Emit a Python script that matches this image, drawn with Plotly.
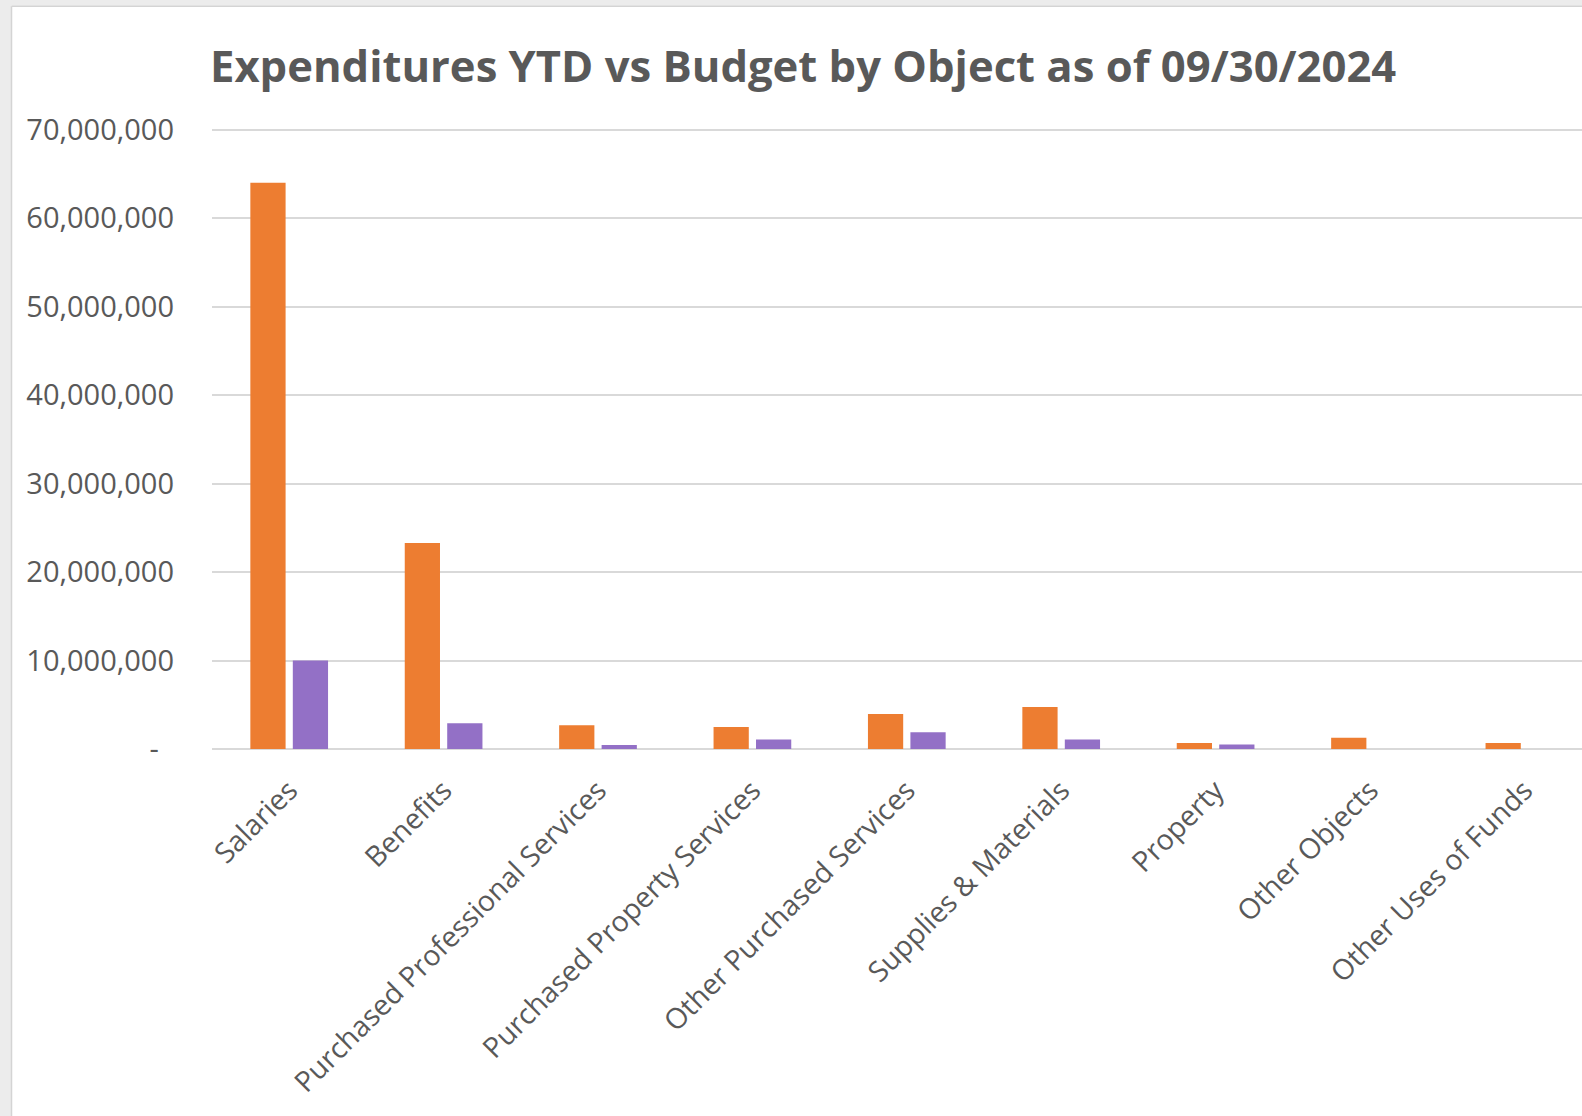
import plotly.graph_objects as go

categories = ["Salaries", "Benefits", "Purchased Professional Services",
              "Purchased Property Services", "Other Purchased Services",
              "Supplies & Materials", "Property", "Other Objects", "Other Uses of Funds"]
budget = [64000000, 23300000, 2690000, 2490000, 3950000, 4760000, 690000, 1260000, 690000]
ytd_expenditures = [10000000, 2920000, 460000, 1080000, 1890000, 1080000, 500000, 0, 0]

tick_vals = [0, 10000000, 20000000, 30000000, 40000000, 50000000, 60000000, 70000000]
tick_text = ["-\u00a0\u00a0", "10,000,000", "20,000,000", "30,000,000", "40,000,000",
             "50,000,000", "60,000,000", "70,000,000"]

W, H = 1582, 1116
ML = 212
Y_TOP = 130.0        # pixel of 70M
PLOT_BOTTOM = 748.6  # pixel of 0
Y_MAX = 70200000
PX_PER_UNIT = (PLOT_BOTTOM - Y_TOP) / 70000000
MT = PLOT_BOTTOM - Y_MAX * PX_PER_UNIT
MB = H - PLOT_BOTTOM
PW = W - ML
PH = PLOT_BOTTOM - MT
CAT_W = 154.4

def px_x(p):
    return (p - ML) / PW

def px_y(p):
    return (PLOT_BOTTOM - p) / PH

fig = go.Figure()
fig.add_trace(go.Bar(x=list(range(len(categories))), y=budget, name="Budget",
                     marker=dict(color="#ED7D31", line=dict(width=0))))
fig.add_trace(go.Bar(x=list(range(len(categories))), y=ytd_expenditures, name="YTD Expenditures",
                     marker=dict(color="#9370C6", line=dict(width=0))))

gray = "#ECECEC"
edge = "#D4D4D4"
shapes = [
    dict(type="rect", xref="paper", yref="paper", x0=px_x(0), x1=px_x(11), y0=px_y(H), y1=px_y(0),
         fillcolor=gray, line=dict(width=0), layer="above"),
    dict(type="rect", xref="paper", yref="paper", x0=px_x(0), x1=px_x(W), y0=px_y(6), y1=px_y(0),
         fillcolor=gray, line=dict(width=0), layer="above"),
    dict(type="line", xref="paper", yref="paper", x0=px_x(11.5), x1=px_x(11.5), y0=px_y(H), y1=px_y(6.5),
         line=dict(color=edge, width=1.5), layer="above"),
    dict(type="line", xref="paper", yref="paper", x0=px_x(11.5), x1=px_x(W), y0=px_y(6.5), y1=px_y(6.5),
         line=dict(color=edge, width=1.5), layer="above"),
]

fig.update_layout(
    width=W, height=H,
    margin=dict(l=ML, r=0, t=MT, b=MB, pad=0),
    paper_bgcolor="white", plot_bgcolor="white",
    showlegend=False,
    barmode="group", bargap=0.45, bargroupgap=0.17,
    font=dict(family="Open Sans", color="#595959"),
    shapes=shapes,
    annotations=[dict(text="<b>Expenditures YTD vs Budget by Object as of 09/30/2024</b>",
                      xref="paper", yref="paper", x=px_x(208), y=px_y(65),
                      xanchor="left", yanchor="middle", showarrow=False,
                      font=dict(family="Open Sans", size=43.6, color="#595959"))],
    xaxis=dict(range=[-0.5, -0.5 + PW / CAT_W], tickmode="array",
               tickvals=list(range(len(categories))), ticktext=categories,
               tickangle=-45, tickfont=dict(size=28.5, color="#595959"), ticklabelstandoff=18,
               showgrid=False, zeroline=False, showline=False, ticks=""),
    yaxis=dict(range=[0, Y_MAX], tickmode="array", tickvals=tick_vals, ticktext=tick_text,
               tickfont=dict(size=29, color="#595959"), ticklabelstandoff=37,
               showgrid=True, gridcolor="#D9D9D9", gridwidth=2,
               zeroline=True, zerolinecolor="#D9D9D9", zerolinewidth=2, showline=False, ticks=""),
)

fig.write_html("out.html", config={"displayModeBar": False, "staticPlot": True},
               post_script="document.body.style.margin='0';document.body.style.overflow='hidden';")
